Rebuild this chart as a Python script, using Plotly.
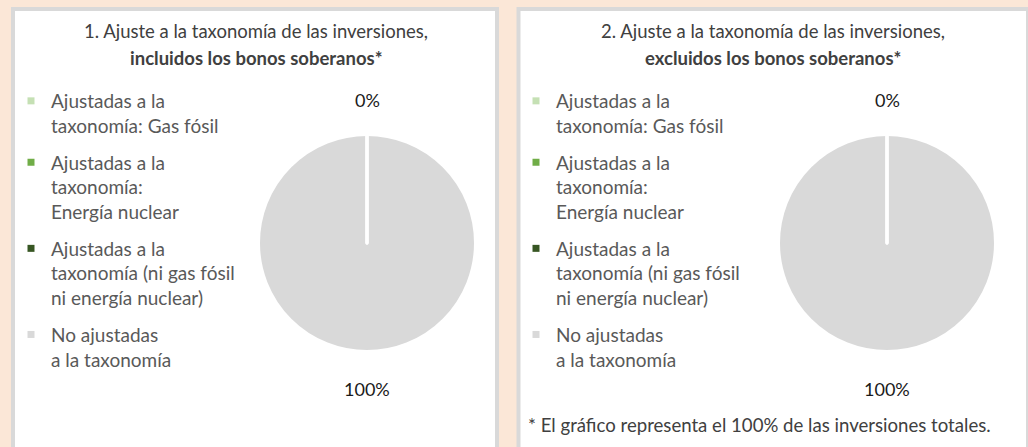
import plotly.graph_objects as go

W, H = 1028, 447

# ---- data ----
categories = [
    "Ajustadas a la<br>taxonomía: Gas fósil",
    "Ajustadas a la<br>taxonomía:<br>Energía nuclear",
    "Ajustadas a la<br>taxonomía (ni gas fósil<br>ni energía nuclear)",
    "No ajustadas<br>a la taxonomía",
]
colors = ["#C5E0B4", "#70AD47", "#375623", "#D9D9D9"]
values_incl = [0, 0, 0, 100]   # 1. incluidos los bonos soberanos
values_excl = [0, 0, 0, 100]   # 2. excluidos los bonos soberanos
titles = [
    ("1. Ajuste a la taxonomía de las inversiones,", "incluidos los bonos soberanos*"),
    ("2. Ajuste a la taxonomía de las inversiones,", "excluidos los bonos soberanos*"),
]
footnote = "* El gráfico representa el 100% de las inversiones totales."

FONT = "Lato"
BG = "#FBE7D7"


def X(px):
    return px / W


def Y(py):
    return 1 - py / H


fig = go.Figure()

panels = [
    dict(x0=13, x1=497, cx=367, legend="legend", vals=values_incl, title=titles[0]),
    dict(x0=518.5, x1=1028, cx=887, legend="legend2", vals=values_excl, title=titles[1]),
]
R = 108.5
CY = 243

for k, p in enumerate(panels):
    fig.add_shape(type="rect", xref="paper", yref="paper",
                  x0=X(p["x0"]), x1=X(p["x1"]), y0=Y(470), y1=Y(9),
                  fillcolor="white", line=dict(color="#D9D9D9", width=4), layer="below")
    fig.add_trace(go.Pie(
        labels=categories, values=p["vals"], sort=True, direction="counterclockwise",
        marker=dict(colors=colors, line=dict(color="white", width=3)),
        textinfo="none", hoverinfo="label+percent", showlegend=False,
        domain=dict(x=[X(p["cx"] - R), X(p["cx"] + R)], y=[Y(CY + R), Y(CY - R)]),
    ))
    total = sum(p["vals"])
    small = sum(p["vals"][:3]) / total * 100
    big = p["vals"][3] / total * 100
    for txt, py in ((f"{small:.0f}%", 100), (f"{big:.0f}%", 389)):
        fig.add_annotation(x=X(p["cx"]), y=Y(py), xref="paper", yref="paper",
                           xanchor="center", yanchor="middle",
                           text=txt, showarrow=False,
                           font=dict(family=FONT, size=18, color="#1a1a1a"))
    mid = (p["x0"] + 2 + min(p["x1"], 1026)) / 2
    fig.add_annotation(x=X(mid), y=Y(31), xref="paper", yref="paper",
                       xanchor="center", yanchor="middle",
                       text=p["title"][0], showarrow=False,
                       font=dict(family=FONT, size=18.5, color="#404040"))
    fig.add_annotation(x=X(mid), y=Y(58), xref="paper", yref="paper",
                       xanchor="center", yanchor="middle",
                       text=f"<b>{p['title'][1]}</b>", showarrow=False,
                       font=dict(family=FONT, size=18.5, color="#404040"))
    for i, (lab, col) in enumerate(zip(categories, colors)):
        fig.add_trace(go.Scatter(
            x=[None], y=[None], mode="markers", name=lab, legend=p["legend"],
            legendgroup=f"g{k}_{i}",
            marker=dict(symbol="square", size=7, color=col),
            hoverinfo="skip",
        ))

fig.add_annotation(x=X(526), y=Y(425), xref="paper", yref="paper",
                   xanchor="left", yanchor="middle",
                   text=footnote, showarrow=False,
                   font=dict(family=FONT, size=18.6, color="#404040"))

legend_common = dict(
    font=dict(family=FONT, size=19, color="#595959"),
    bgcolor="rgba(0,0,0,0)", borderwidth=0, valign="top",
    xanchor="left", yanchor="top", itemwidth=30, tracegroupgap=9,
)

fig.update_layout(
    width=W, height=H,
    margin=dict(l=0, r=0, t=0, b=0),
    paper_bgcolor=BG, plot_bgcolor="rgba(0,0,0,0)",
    xaxis=dict(visible=False), yaxis=dict(visible=False),
    legend=dict(x=X(11), y=Y(82), **legend_common),
    legend2=dict(x=X(516), y=Y(82), **legend_common),
    showlegend=True,
)

fig.write_html(
    "out.html",
    config={"displayModeBar": False},
    post_script="document.body.style.margin='0';document.body.style.background='%s';" % BG,
)
